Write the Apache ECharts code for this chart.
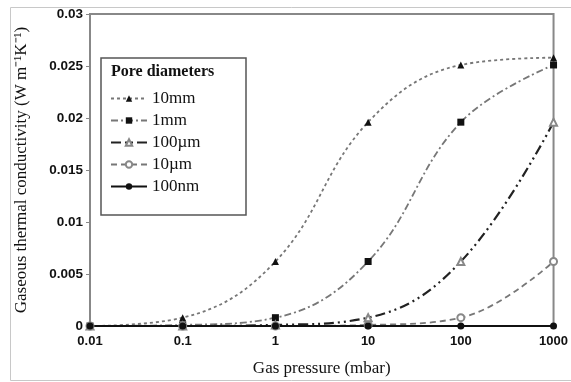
<!DOCTYPE html>
<html lang="en">
  <head>
    <meta charset="UTF-8" />
    <script src="https://cdn.jsdelivr.net/npm/echarts@6/dist/echarts.min.js"></script>
    <title>Gaseous thermal conductivity</title>
    <style>
      html, body { margin: 0; padding: 0; background: #fff; }
      #app { width: 571px; height: 382px; }
    </style>
  </head>
  <body>
    <div id="app"></div>
    <script>
      // gas pressure (mbar), log scale
      const pressures = [0.01, 0.1, 1, 10, 100, 1000];
      const xTicks = ["0.01", "0.1", "1", "10", "100", "1000"];

      // gaseous thermal conductivity (W m-1 K-1) per pore diameter
      const k10mm = [0, 0.0008, 0.0062, 0.0196, 0.0251, 0.0258];
      const k1mm = [0, 0.0001, 0.0008, 0.0062, 0.0196, 0.0251];
      const k100um = [0, 0, 0.0001, 0.0008, 0.0062, 0.0196];
      const k10um = [0, 0, 0, 0.0001, 0.0008, 0.0062];
      const k100nm = [0, 0, 0, 0, 0, 0];

      const pairs = (ys) => pressures.map((x, i) => [x, ys[i]]);
      const serif = "Liberation Serif";

      const echart = echarts.init(document.getElementById("app"));

      function line(name, ys, lineStyle, symbol, itemStyle) {
        return {
          name: name,
          type: "line",
          data: pairs(ys),
          smooth: 0.4,
          symbol: symbol,
          symbolSize: 7,
          clip: false,
          lineStyle: lineStyle,
          itemStyle: itemStyle,
          emphasis: { disabled: true },
        };
      }

      echart.setOption({
        animation: false,
        graphic: [
          {
            type: "rect",
            shape: { x: 10.5, y: 7.5, width: 570, height: 373 },
            style: { fill: "none", stroke: "#c8c8c8", lineWidth: 1 },
            z: -1,
          },
          {
            type: "rect",
            shape: { x: 101, y: 58, width: 145, height: 157 },
            style: { fill: "#fff", stroke: "#555", lineWidth: 1.5 },
            z: 5,
          },
          {
            type: "text",
            left: 111,
            top: 64,
            style: {
              text: "Pore diameters",
              font: "bold 16px " + serif,
              fill: "#111",
            },
            z: 6,
          },
        ],
        grid: {
          left: 90,
          right: 16,
          top: 14,
          bottom: 53,
          show: true,
          borderColor: "#888",
          borderWidth: 2,
        },
        legend: {
          orient: "vertical",
          left: 105,
          top: 85,
          itemWidth: 36,
          itemHeight: 8,
          itemGap: 5,
          z: 7,
          textStyle: { fontFamily: serif, fontSize: 17, color: "#111" },
          data: ["10mm", "1mm", "100µm", "10µm", "100nm"],
        },
        xAxis: {
          type: "log",
          logBase: 10,
          min: 0.01,
          max: 1000,
          name: "Gas pressure (mbar)",
          nameLocation: "middle",
          nameGap: 34,
          nameTextStyle: { fontFamily: serif, fontSize: 17, color: "#111" },
          axisLine: { lineStyle: { color: "#888", width: 2 } },
          axisTick: { show: false },
          splitLine: { show: false },
          axisLabel: {
            margin: 9,
            fontFamily: "Liberation Sans",
            fontWeight: "bold",
            fontSize: 13,
            color: "#111",
            formatter: (v) => xTicks[Math.round(Math.log10(v)) + 2],
          },
        },
        yAxis: {
          type: "value",
          min: 0,
          max: 0.03,
          interval: 0.005,
          name: "Gaseous thermal conductivity (W m\u207B\u00B9K\u207B\u00B9)",
          nameLocation: "middle",
          nameGap: 60,
          nameTextStyle: { fontFamily: serif, fontSize: 17, color: "#111" },
          axisLine: { show: true, lineStyle: { color: "#888", width: 2 } },
          axisTick: { show: true, length: 4, lineStyle: { color: "#888" } },
          splitLine: { show: false },
          axisLabel: {
            margin: 7,
            fontFamily: "Liberation Sans",
            fontWeight: "bold",
            fontSize: 13.5,
            color: "#111",
          },
        },
        series: [
          line("10mm", k10mm, { color: "#777", width: 1.8, type: [3, 3] }, "triangle", { color: "#111" }),
          line("1mm", k1mm, { color: "#777", width: 1.8, type: [7, 3, 2, 3] }, "rect", { color: "#111" }),
          line("100µm", k100um, { color: "#222", width: 2.2, type: [10, 4, 2, 4, 2, 4] }, "emptyTriangle", { color: "#888", borderWidth: 1.5 }),
          line("10µm", k10um, { color: "#777", width: 1.8, type: [6, 4] }, "emptyCircle", { color: "#888", borderWidth: 1.5 }),
          line("100nm", k100nm, { color: "#111", width: 1.8, type: "solid" }, "circle", { color: "#111" }),
        ],
      });
    </script>
  </body>
</html>
